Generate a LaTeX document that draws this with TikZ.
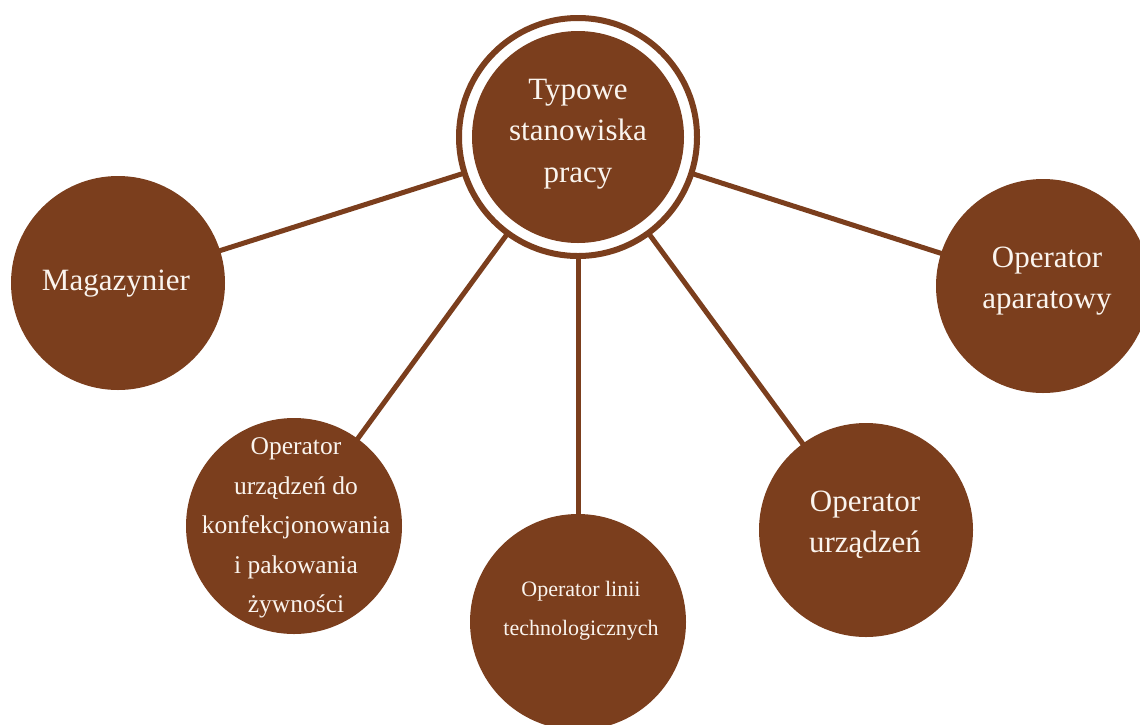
\documentclass[tikz,border=0pt]{standalone}
\usepackage{fontspec}
\setmainfont{Liberation Serif}
\usetikzlibrary{backgrounds}
\definecolor{brn}{RGB}{123,62,29}
\definecolor{txt}{RGB}{250,244,238}
\tikzset{
  bubble/.style={circle, fill=brn, draw=none, inner sep=0pt, minimum size=#1},
  ringbox/.style={circle, fill=white, draw=brn, line width=6pt, inner sep=0pt, minimum size=#1},
  lbl/.style={text=txt, align=center, inner sep=0pt},
  link/.style={draw=brn, line width=5pt},
  big/.style={font=\fontsize{31}{41.5}\selectfont},
  mid/.style={font=\fontsize{25.5}{39.5}\selectfont},
  small/.style={font=\fontsize{22}{39}\selectfont}
}
\begin{document}
\begin{tikzpicture}[x=1pt,y=-1pt]
\useasboundingbox (0,0) rectangle (1140,724);
% hub
\node[ringbox=238pt] (ring) at (578,137) {};
\node[bubble=212pt] (hub) at (578,137) {};
\node[lbl,big] (hubt) at (578,134) {Typowe\\stanowiska\\pracy};
% children
\node[bubble=214pt] (mag) at (118,283) {};
\node[lbl,big] (magt) at (116,284) {Magazynier};
\node[bubble=214pt] (apar) at (1043,286) {};
\node[lbl,big] (apart) at (1047,281) {Operator\\aparatowy};
\node[bubble=216pt] (konf) at (294,526) {};
\node[lbl,mid] (konft) at (296,528) {Operator\\urządzeń do\\konfekcjonowania\\i pakowania\\żywności};
\node[bubble=216pt] (lin) at (578,622) {};
\node[lbl,small] (lint) at (581,611) {Operator linii\\technologicznych};
\node[bubble=214pt] (urz) at (866,530) {};
\node[lbl,big] (urzt) at (865,525) {Operator\\urządzeń};
% links
\begin{pgfonlayer}{background}
\fill[white] (0,0) rectangle (1140,724);
\draw[link] (ring.center) -- (mag.center);
\draw[link] (ring.center) -- (apar.center);
\draw[link] (ring.center) -- (konf.center);
\draw[link] (ring.center) -- (lin.center);
\draw[link] (ring.center) -- (urz.center);
\end{pgfonlayer}
\end{tikzpicture}
\end{document}
